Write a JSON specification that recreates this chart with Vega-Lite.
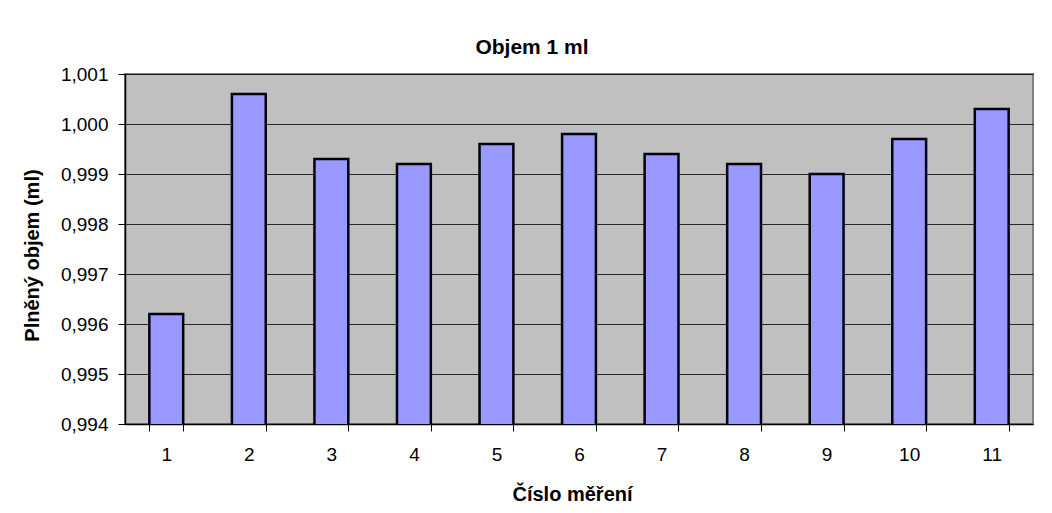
{
  "$schema": "https://vega.github.io/schema/vega-lite/v6.json",
  "width": 908,
  "height": 350,
  "autosize": {"type": "none"},
  "padding": {"left": 125, "top": 74, "right": 19, "bottom": 89},
  "background": "white",
  "config": {
    "font": "Liberation Sans",
    "locale": {"number": {"decimal": ",", "thousands": " ", "grouping": [3], "currency": ["", " Kč"]}},
    "view": {"fill": "#c0c0c0", "stroke": "#808080", "strokeWidth": 2}
  },
  "title": {
    "text": "Objem 1 ml",
    "fontSize": 21,
    "fontWeight": "bold",
    "color": "black",
    "anchor": "middle",
    "dx": -47,
    "offset": 7
  },
  "data": {
    "values": [
      {"mereni": "1", "objem": 0.9962},
      {"mereni": "2", "objem": 1.0006},
      {"mereni": "3", "objem": 0.9993},
      {"mereni": "4", "objem": 0.9992},
      {"mereni": "5", "objem": 0.9996},
      {"mereni": "6", "objem": 0.9998},
      {"mereni": "7", "objem": 0.9994},
      {"mereni": "8", "objem": 0.9992},
      {"mereni": "9", "objem": 0.999},
      {"mereni": "10", "objem": 0.9997},
      {"mereni": "11", "objem": 1.0003}
    ]
  },
  "mark": {"type": "bar", "color": "#9999ff", "stroke": "#000010", "strokeWidth": 2.5, "clip": true},
  "encoding": {
    "x": {
      "field": "mereni",
      "type": "ordinal",
      "sort": null,
      "scale": {"paddingInner": 0.59, "paddingOuter": 0.295},
      "axis": {
        "title": "Číslo měření",
        "titleFontSize": 20,
        "titleFontWeight": "bold",
        "titleColor": "black",
        "titleX": 447,
        "titleY": 70,
        "titleBaseline": "middle",
        "titleAlign": "center",
        "labelAngle": 0,
        "labelFontSize": 19,
        "labelColor": "black",
        "labelPadding": 14,
        "tickBand": "extent",
        "tickSize": 7,
        "tickColor": "black",
        "domainColor": "black",
        "domainWidth": 1.5,
        "grid": false
      }
    },
    "y": {
      "field": "objem",
      "type": "quantitative",
      "scale": {"domain": [0.994, 1.001], "nice": false, "zero": false},
      "axis": {
        "title": "Plněný objem (ml)",
        "titleFontSize": 20,
        "titleFontWeight": "bold",
        "titleColor": "black",
        "titleX": -93,
        "titleY": 181,
        "titleAngle": -90,
        "titleAlign": "center",
        "titleBaseline": "middle",
        "format": ".3f",
        "values": [0.994, 0.995, 0.996, 0.997, 0.998, 0.999, 1.0, 1.001],
        "labelFontSize": 19,
        "labelColor": "black",
        "labelPadding": 10,
        "tickSize": 7,
        "tickColor": "black",
        "domainColor": "black",
        "domainWidth": 1.5,
        "grid": true,
        "gridColor": "black",
        "gridOpacity": 0.8,
        "gridWidth": 1
      }
    }
  }
}
